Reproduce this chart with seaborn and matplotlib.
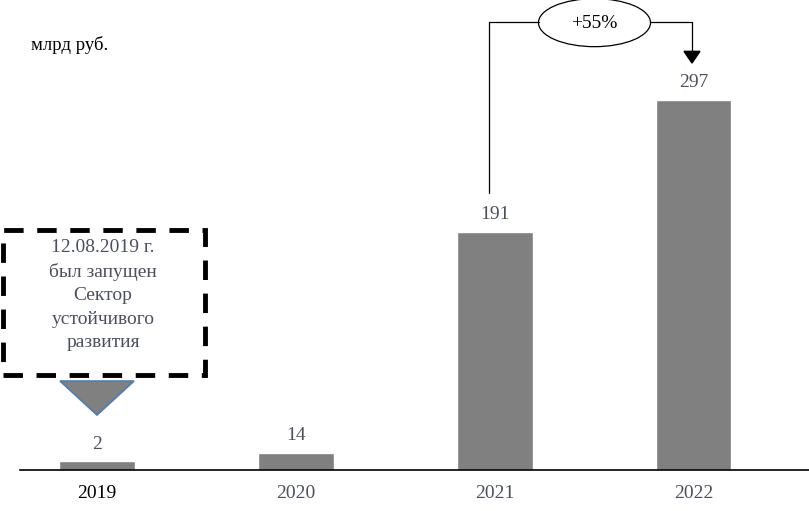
import pandas as pd
import numpy as np
import matplotlib
matplotlib.use("Agg")
import matplotlib.pyplot as plt
import seaborn as sns
from matplotlib.patches import Rectangle, Polygon, Ellipse

years = ['2019', '2020', '2021', '2022']
values = [2, 14, 191, 297]
unit_label = 'млрд руб.'
note_text = '12.08.2019 г.\nбыл запущен\nСектор\nустойчивого\nразвития'
growth_text = '+55%'

df = pd.DataFrame({'year': years, 'value': values})
# tiny bars get a minimum visible height, as in the source slide
df['shown'] = np.maximum(df['value'], 7)

sns.set_theme(style="white")
plt.rcParams['font.family'] = ['Liberation Serif', 'DejaVu Serif']

label_col = '#4c4f60'

fig = plt.figure(figsize=(8.09, 5.11), dpi=100)
ax = fig.add_axes([20/809, 41/511, 789/809, 470/511])

sns.barplot(data=df, x='year', y='shown', color='#808080', saturation=1,
            width=0.377, ax=ax)

ax.set_xlim(-0.387, 3.578)
ax.set_ylim(0, 377.2)
ax.set_xlabel('')
ax.set_ylabel('')
ax.set_yticks([])
for s in ['top', 'left', 'right']:
    ax.spines[s].set_visible(False)
ax.spines['bottom'].set_color('black')
ax.spines['bottom'].set_linewidth(1.2)
ax.tick_params(axis='x', length=0, pad=11, labelsize=14)
for i, t in enumerate(ax.get_xticklabels()):
    t.set_color('black' if i == 0 else label_col)

# value labels
for i, (v, h) in enumerate(zip(df['value'], df['shown'])):
    ax.text(i, h + 7, str(v), ha='center', va='bottom',
            fontsize=14, color=label_col)

# unit label
fig.text(31/809, 1 - 45/511, unit_label, ha='left', va='center',
         fontsize=13.5, color='black')

# dashed note box with triangle pointer
box = Rectangle((-0.472, 76.2), 1.015, 116.4, fill=False, edgecolor='black',
                linewidth=3.5, linestyle=(0, (4, 2.8)), clip_on=False)
ax.add_patch(box)
ax.text(0.03, 140.5, note_text, ha='center', va='center', fontsize=14,
        color=label_col, linespacing=1.5)
tri = Polygon([[-0.186, 71.4], [0.186, 71.4], [0, 44.1]], closed=True,
              facecolor='#808080', edgecolor='#4a7ebb', linewidth=1.2,
              clip_on=False)
ax.add_patch(tri)

# growth connector
ax.plot([1.97, 1.97, 2.22], [222, 359.5, 359.5], color='black', lw=0.9,
        clip_on=False)
ax.plot([2.78, 2.99, 2.99], [359.5, 359.5, 336], color='black', lw=0.9,
        clip_on=False)
ax.add_patch(Polygon([[2.95, 336], [3.03, 336], [2.99, 326.6]], closed=True,
                     facecolor='black', edgecolor='black', clip_on=False))
ax.add_patch(Ellipse((2.5, 359), 0.563, 38.5, facecolor='white',
                     edgecolor='black', lw=0.9, clip_on=False))
ax.text(2.5, 358, growth_text, ha='center', va='center', fontsize=14,
        color='black')

plt.savefig('out.png', dpi=100)
